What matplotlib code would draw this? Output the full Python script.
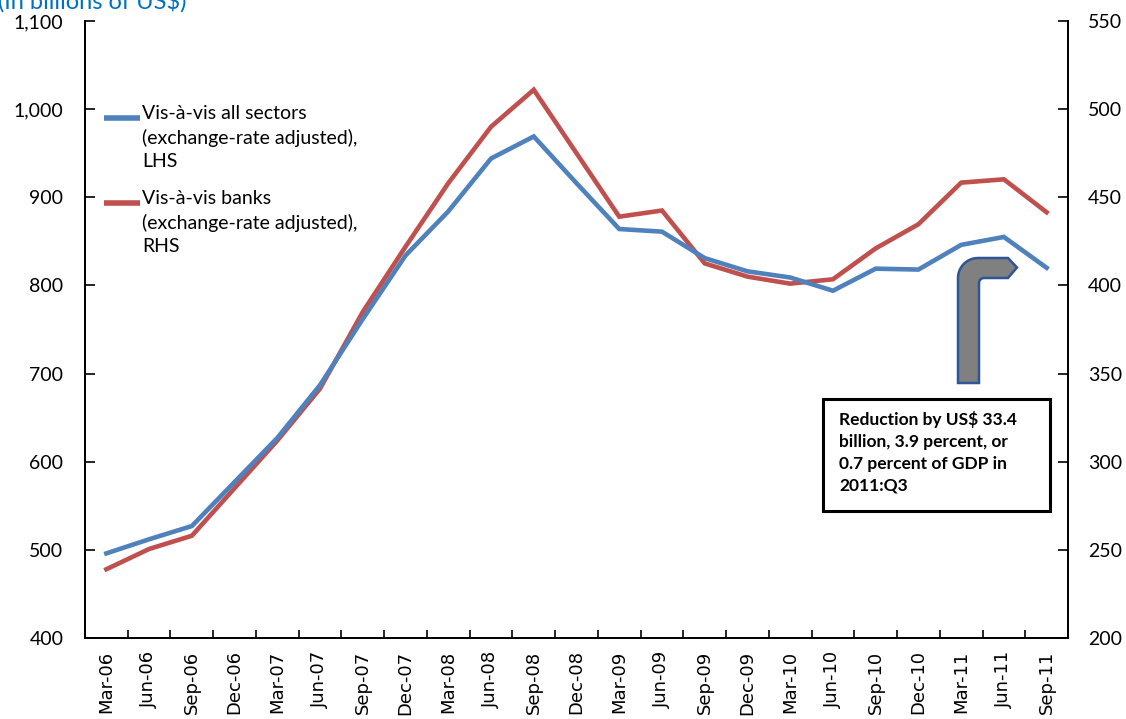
import matplotlib
matplotlib.use("Agg")
import matplotlib.pyplot as plt
import numpy as np
from matplotlib.lines import Line2D
from matplotlib.patches import Polygon, Rectangle
from matplotlib.ticker import FuncFormatter, MultipleLocator

# Quarterly data
quarters = ["Mar-06", "Jun-06", "Sep-06", "Dec-06", "Mar-07", "Jun-07", "Sep-07",
            "Dec-07", "Mar-08", "Jun-08", "Sep-08", "Dec-08", "Mar-09", "Jun-09",
            "Sep-09", "Dec-09", "Mar-10", "Jun-10", "Sep-10", "Dec-10", "Mar-11",
            "Jun-11", "Sep-11"]
all_sectors = [496, 512, 527, 577, 627, 687, 762, 834, 884, 944, 969, 916, 864,
               861, 831, 816, 809, 794, 819, 818, 846, 855, 820]
banks = [239, 250.5, 258, 285, 312, 341.5, 385, 422, 458, 490, 511, 475, 439,
         442.5, 412.5, 405, 401, 403.5, 421, 434.7, 458.3, 460.2, 441.5]

label_all = "Vis-à-vis all sectors\n(exchange-rate adjusted),\nLHS"
label_banks = "Vis-à-vis banks\n(exchange-rate adjusted),\nRHS"
note = "Reduction by US$ 33.4\nbillion, 3.9 percent, or\n0.7 percent of GDP in\n2011:Q3"

blue = "#4F81BD"
red = "#C0504D"
W, H = 1126, 719

fig = plt.figure(figsize=(W / 100, H / 100), dpi=100)
ax = fig.add_axes([85 / W, 1 - 638 / H, (1068 - 85) / W, (638 - 21) / H])
ax2 = ax.twinx()

x = np.arange(len(quarters))
l1, = ax.plot(x, all_sectors, color=blue, lw=3.3, solid_joinstyle="miter")
l2, = ax2.plot(x, banks, color=red, lw=3.3, solid_joinstyle="miter")
ax.set_zorder(ax2.get_zorder() + 1)
ax.patch.set_visible(False)

ax.set_xlim(-0.5, len(quarters) - 0.5)
ax.set_ylim(400, 1100)
ax2.set_ylim(200, 550)
ax.yaxis.set_major_locator(MultipleLocator(100))
ax2.yaxis.set_major_locator(MultipleLocator(50))
ax.yaxis.set_major_formatter(FuncFormatter(lambda v, p: f"{v:,.0f}"))

ax.set_xticks(x)
ax.set_xticklabels(quarters, rotation=90, fontsize=13, family="DejaVu Sans")
ax.set_xticks(np.arange(-0.5, len(quarters)), minor=True)
ax.tick_params(axis="x", which="major", length=0, pad=9)
ax.tick_params(axis="x", which="minor", direction="in", length=6, width=1.2)
ax.tick_params(axis="y", direction="in", length=7, width=1.2, labelsize=14, pad=15.5)
ax2.tick_params(axis="y", direction="in", length=7, width=1.2, labelsize=14, pad=14.5)
for t in ax.get_yticklabels() + ax2.get_yticklabels():
    t.set_family("Lato")

for a in (ax, ax2):
    a.spines["top"].set_visible(False)
    for s in ("left", "right", "bottom"):
        a.spines[s].set_linewidth(1.3)

# legend drawn by hand: handle aligned with first text line
px = lambda xp, yp: (xp / W, 1 - yp / H)
for line, label, y0 in ((l1, label_all, 118), (l2, label_banks, 203)):
    (xa, ya), (xb, _) = px(104, y0), px(140, y0)
    fig.add_artist(Line2D([xa, xb], [ya, ya], color=line.get_color(), lw=4,
                          solid_capstyle="butt", transform=fig.transFigure))
    fig.text(*px(142, y0 - 13), label, fontsize=14, family="Lato", va="top",
             ha="left", linespacing=1.45)

fig.text(-0.002, 1 - 9 / H, "(In billions of US$)", color="#0070C0", fontsize=17,
         family="Lato", va="baseline", ha="left")

# annotation box
box = Rectangle(px(823, 511), (1050 - 823) / W, (511 - 399) / H, transform=fig.transFigure,
                facecolor="white", edgecolor="black", lw=2.2, zorder=5)
fig.patches.append(box)
fig.text(*px(839, 411), note, fontsize=12.5, fontweight="bold", family="Lato",
         va="top", ha="left", linespacing=1.45, zorder=6)

# bent arrow
r_out, r_in = 20, 5
pts = [(958, 383), (958, 258 + r_out)]
for a_ in np.linspace(np.pi, np.pi / 2, 12):
    pts.append((958 + r_out + r_out * np.cos(a_), 258 + r_out - r_out * np.sin(a_)))
pts += [(1008, 258), (1017, 267.5), (1008, 278), (979 + r_in, 278)]
for a_ in np.linspace(np.pi / 2, np.pi, 6):
    pts.append((979 + r_in + r_in * np.cos(a_), 278 + r_in - r_in * np.sin(a_)))
pts += [(979, 383)]
arrow = Polygon([px(*p) for p in pts], closed=True, transform=fig.transFigure,
                facecolor="#808080", edgecolor="#2F5597", lw=1.8, zorder=5)
fig.patches.append(arrow)

fig.savefig("out.png", dpi=100)
